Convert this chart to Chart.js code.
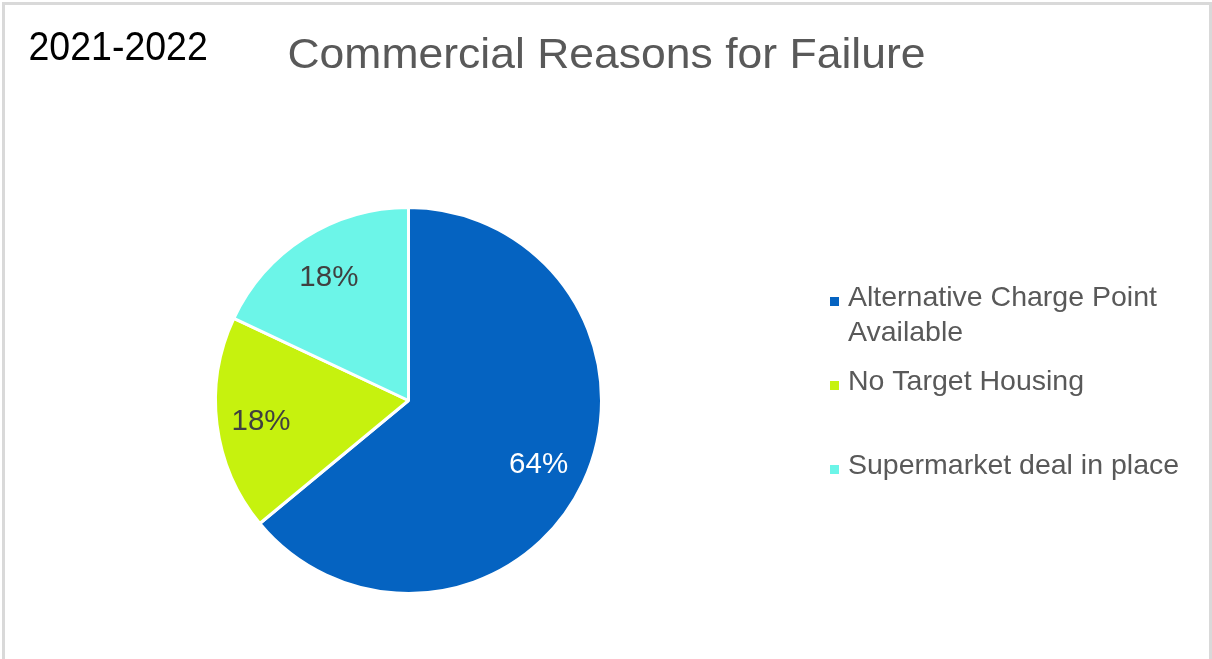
<!DOCTYPE html>
<html>
<head>
<meta charset="utf-8">
<title>Commercial Reasons for Failure</title>
<script src="https://cdn.jsdelivr.net/npm/chart.js@4"></script>
<style>
  html, body { margin: 0; padding: 0; background: #fff; overflow: hidden; }
  #frame {
    position: absolute; left: 2px; top: 2px; width: 1210px; height: 720px;
    box-sizing: border-box; border: 3px solid #d9d9d9;
  }
  #chart { position: absolute; left: 0; top: 0; }
</style>
</head>
<body>
<div id="frame"></div>
<canvas id="chart" width="1212" height="659"></canvas>
<script>
// reasons and their share of failures (%)
const reasons = ['Alternative Charge Point Available', 'No Target Housing', 'Supermarket deal in place'];
const sharePct = [64, 18, 18];
const sliceColors = ['#0563c1', '#c6f20e', '#6cf5e8'];
const labelColors = ['#ffffff', '#404040', '#404040'];
const period = '2021-2022';
const chartTitle = 'Commercial Reasons for Failure';

const FONT = "'Liberation Sans', Arial, sans-serif";

// split a legend entry over several lines when it is too wide
function wrap(ctx, text, maxW) {
  const words = text.split(' ');
  const lines = [];
  let cur = '';
  words.forEach(w => {
    const test = cur ? cur + ' ' + w : w;
    if (ctx.measureText(test).width > maxW && cur) {
      lines.push(cur);
      cur = w;
    } else {
      cur = test;
    }
  });
  if (cur) lines.push(cur);
  return lines;
}

// text drawn a little taller than the font's natural proportions
function tallText(ctx, text, x, y, sy) {
  ctx.save();
  ctx.translate(x, y);
  ctx.scale(1, sy);
  ctx.fillText(text, 0, 0);
  ctx.restore();
}

// headings, % labels on the slices and the legend on the right
const decor = {
  id: 'decor',
  afterDraw(chart, args, opts) {
    const ctx = chart.ctx;
    ctx.save();

    ctx.textBaseline = 'alphabetic';
    ctx.fillStyle = '#000';
    ctx.textAlign = 'left';
    ctx.font = '37.5px ' + FONT;
    tallText(ctx, period, 28.5, 60, 1.1);

    ctx.fillStyle = '#595959';
    ctx.textAlign = 'center';
    ctx.font = '44.5px ' + FONT;
    tallText(ctx, chartTitle, 606.5, 68, 0.97);

    // value labels
    const meta = chart.getDatasetMeta(0);
    const values = chart.data.datasets[0].data;
    ctx.font = '29.5px ' + FONT;
    ctx.textBaseline = 'middle';
    meta.data.forEach((arc, i) => {
      const p = arc.getProps(['x', 'y', 'startAngle', 'endAngle', 'outerRadius'], true);
      const mid = (p.startAngle + p.endAngle) / 2;
      const r = p.outerRadius * opts.labelRadius[i];
      ctx.fillStyle = labelColors[i];
      ctx.fillText(values[i] + '%', p.x + Math.cos(mid) * r, p.y + Math.sin(mid) * r + 3);
    });

    // legend
    ctx.textAlign = 'left';
    ctx.font = '28.5px ' + FONT;
    chart.data.labels.forEach((lab, i) => {
      const y0 = opts.legendRows[i];
      ctx.fillStyle = chart.data.datasets[0].backgroundColor[i];
      ctx.fillRect(opts.legendX, y0 - 1, 9, 9);
      ctx.fillStyle = '#595959';
      wrap(ctx, lab, opts.legendWidth).forEach((line, j) => {
        ctx.fillText(line, opts.legendX + 18, y0 + j * 35);
      });
    });

    ctx.restore();
  }
};

new Chart(document.getElementById('chart'), {
  type: 'pie',
  data: {
    labels: reasons,
    datasets: [{
      data: sharePct,
      backgroundColor: sliceColors,
      borderColor: '#ffffff',
      borderWidth: 3,
      hoverOffset: 0
    }]
  },
  options: {
    responsive: false,
    animation: false,
    events: [],
    layout: { padding: { left: 214, right: 609, top: 206, bottom: 64 } },
    plugins: {
      legend: { display: false },
      tooltip: { enabled: false },
      decor: {
        labelRadius: [0.745, 0.77, 0.77],
        legendX: 830, legendWidth: 345, legendRows: [298, 382, 466]
      }
    }
  },
  plugins: [decor]
});
</script>
</body>
</html>
